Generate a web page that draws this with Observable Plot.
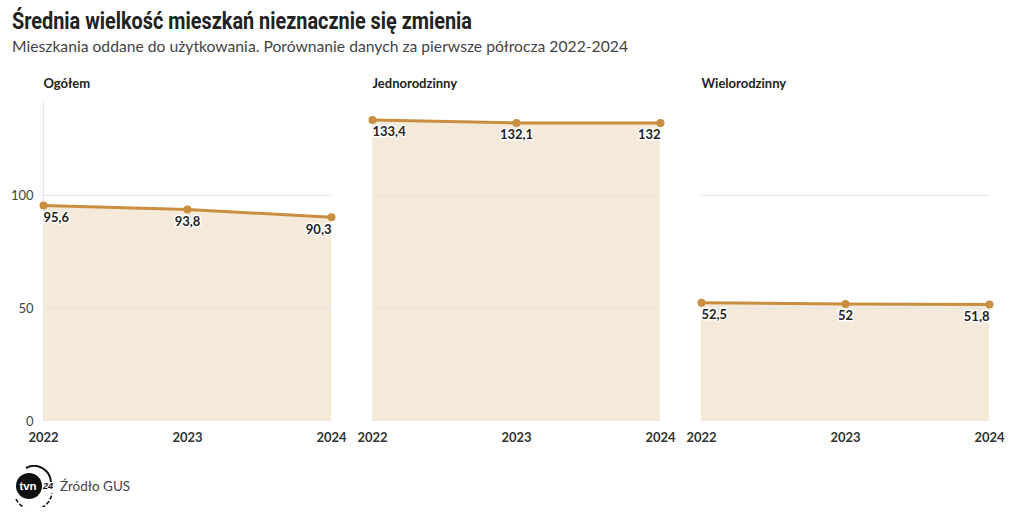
<!DOCTYPE html>
<html>
<head>
<meta charset="utf-8">
<script src="https://cdn.jsdelivr.net/npm/d3@7"></script>
<script src="https://cdn.jsdelivr.net/npm/@observablehq/plot@0.6"></script>
<style>
  html, body { margin: 0; padding: 0; background: #fff; }
  body { width: 1020px; height: 521px; overflow: hidden; font-family: Lato, sans-serif; }
  #title { position: absolute; left: 12px; top: 8px; margin: 0; font-family: Roboto, sans-serif; font-weight: bold; font-size: 23px; color: #222; transform-origin: 0 0; white-space: nowrap; }
  #subtitle { position: absolute; left: 12px; top: 37px; margin: 0; font-family: Lato, sans-serif; font-size: 15.7px; color: #444; white-space: nowrap; }
  #chart { position: absolute; left: 0; top: 60px; }
  #footer { position: absolute; left: 12px; top: 465px; display: flex; align-items: center; }
  #footer span { font-family: Lato, sans-serif; font-size: 13.5px; color: #444; margin-left: 4px; }
</style>
</head>
<body>
<h1 id="title">Średnia wielkość mieszkań nieznacznie się zmienia</h1>
<p id="subtitle">Mieszkania oddane do użytkowania. Porównanie danych za pierwsze półrocza 2022-2024</p>
<div id="chart"></div>
<div id="footer">
  <svg width="44" height="42" viewBox="0 0 44 42">
    <path d="M4 34 A19 19 0 0 0 40 28" fill="none" stroke="#111" stroke-width="1.6" stroke-dasharray="4 2"/>
    <path d="M14 3 A17 17 0 0 1 39 17" fill="none" stroke="#111" stroke-width="2"/>
    <circle cx="17" cy="21" r="13" fill="#111"/>
    <text x="16" y="25" text-anchor="middle" font-family="Liberation Sans, sans-serif" font-weight="bold" font-size="11.5" fill="#fff">tvn</text>
    <text x="36" y="24" text-anchor="middle" font-family="Liberation Sans, sans-serif" font-weight="bold" font-style="italic" font-size="9" fill="#111">24</text>
  </svg>
  <span>Źródło GUS</span>
</div>
<script>
const categories = ["Ogółem", "Jednorodzinny", "Wielorodzinny"];
const years = [2022, 2023, 2024];
const ogolem = [95.6, 93.8, 90.3];
const jednorodzinny = [133.4, 132.1, 132];
const wielorodzinny = [52.5, 52, 51.8];
const yTicks = [0, 50, 100];

// fit title width to reference (condensed face)
const t = document.getElementById("title");
const w = t.getBoundingClientRect().width;
t.style.transform = `scaleX(${460 / w})`;

const series = [ogolem, jednorodzinny, wielorodzinny];
const data = [];
categories.forEach((c, i) => years.forEach((y, j) => data.push({cat: c, year: y, value: series[i][j]})));
const fmt = v => String(v).replace(".", ",");
const yAxisData = yTicks.map(v => ({cat: categories[0], v}));
const xAxisData = [];
categories.forEach(c => years.forEach(y => xAxisData.push({cat: c, year: y})));

const lineColor = "#c98e3f";
const areaColor = "#f5e9da";
const labelFont = "Lato, sans-serif";

const labelMark = (year, anchor) => Plot.text(data.filter(d => d.year === year), {
  x: "year", y: "value", fx: "cat", text: d => fmt(d.value),
  textAnchor: anchor, dy: 12, fontWeight: "bold", fontSize: 13, fill: "#222",
  stroke: "white", strokeWidth: 3, fontFamily: labelFont
});

const chart = Plot.plot({
  width: 1020,
  height: 400,
  marginLeft: 42,
  marginRight: 30,
  marginTop: 40,
  marginBottom: 39,
  style: {fontFamily: labelFont, background: "white", overflow: "visible"},
  fx: {domain: categories, paddingInner: 0.124, paddingOuter: 0, axis: null, label: null},
  x: {domain: [2022, 2024], axis: null, label: null},
  y: {domain: [0, 142], axis: null, label: null},
  marks: [
    Plot.areaY(data, {x: "year", y: "value", fx: "cat", fill: areaColor}),
    Plot.ruleY(yTicks.slice(1), {stroke: "#e4e4e4", strokeWidth: 1}),
    Plot.ruleX(categories.slice(0, 1), {x: () => 2022, fx: d => d, stroke: "#e6e6e6"}),
    Plot.text(yAxisData, {y: "v", fx: "cat", text: d => String(d.v), frameAnchor: "left", textAnchor: "end", dx: -10, fontSize: 13, fill: "#444"}),
    Plot.text(xAxisData, {x: "year", fx: "cat", text: d => String(d.year), frameAnchor: "bottom", lineAnchor: "middle", dy: 16, fontSize: 13, fontWeight: "bold", fill: "#333"}),
    Plot.lineY(data, {x: "year", y: "value", fx: "cat", stroke: lineColor, strokeWidth: 3}),
    Plot.dot(data, {x: "year", y: "value", fx: "cat", fill: lineColor, r: 4}),
    labelMark(2022, "start"),
    labelMark(2023, "middle"),
    labelMark(2024, "end"),
    Plot.text(categories, {fx: d => d, text: d => d, frameAnchor: "top-left", dy: -22, fontWeight: "bold", fontSize: 13, fill: "#222"})
  ]
});
document.getElementById("chart").appendChild(chart);
</script>
</body>
</html>
